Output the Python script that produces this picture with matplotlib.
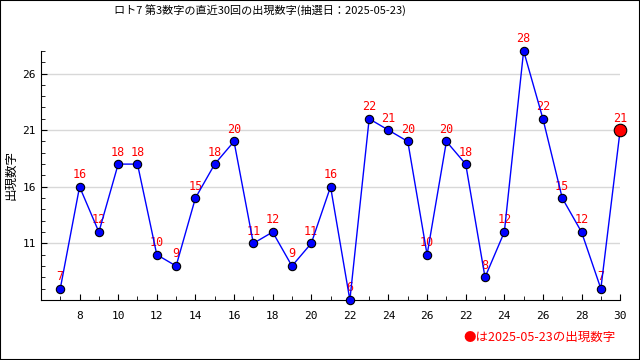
import matplotlib
matplotlib.use("Agg")
from matplotlib import pyplot as plt
from matplotlib.patches import Rectangle

plt.rcParams['font.family'] = ['Noto Sans CJK JP', 'DejaVu Sans']

# 直近30回の第3数字
kai = list(range(1, 31))
suji = [7, 16, 12, 18, 18, 10, 9, 15, 18, 20,
        11, 12, 9, 11, 16, 6, 22, 21, 20, 10,
        20, 18, 8, 12, 28, 22, 15, 12, 7, 21]
x_ticks = [2, 4, 6, 8, 10, 12, 14, 16, 18, 20, 22, 24, 26, 28, 30]
x_labels = ['8', '10', '12', '14', '16', '18', '20', '22', '24', '26',
            '22', '24', '26', '28', '30']
y_ticks = [11, 16, 21, 26]

titlu = 'ロト7 第3数字の直近30回の出現数字(抽選日：2025-05-23)'
nota = '●は2025-05-23の出現数字'

fig = plt.figure(figsize=(6.4, 3.6), dpi=100)
ax = fig.add_axes([0.064, 0.1667, 0.905, 0.692])

ax.plot(kai, suji, color='blue', lw=1, zorder=2)
ax.plot(kai[:-1], suji[:-1], 'o', ms=6, mfc='blue', mec='black', mew=0.8,
        zorder=3, clip_on=False)
ax.plot(kai[-1], suji[-1], 'o', ms=9, mfc='red', mec='black', mew=0.8,
        zorder=4, clip_on=False)

for xi, yi in zip(kai, suji):
    ax.annotate(str(yi), (xi, yi), xytext=(0, 4), textcoords='offset points',
                ha='center', va='bottom', color='red', fontsize=8.5,
                family='DejaVu Sans Mono', annotation_clip=False, zorder=1)

ax.set_xlim(0, 30)
ax.set_ylim(6, 28)
ax.set_xticks(x_ticks)
ax.set_xticklabels(x_labels, family='DejaVu Sans Mono')
ax.set_xticks(kai, minor=True)
ax.set_yticks(y_ticks)
ax.set_yticklabels([str(v) for v in y_ticks], family='DejaVu Sans Mono')
ax.set_yticks(range(6, 29), minor=True)
ax.tick_params(which='both', direction='in', labelsize=8)
ax.tick_params(which='major', length=4)
ax.tick_params(which='minor', length=3)
ax.tick_params(axis='x', pad=8)

ax.grid(axis='y', color='#d8d8d8', lw=1)
ax.set_axisbelow(True)
ax.spines['top'].set_visible(False)
ax.spines['right'].set_visible(False)

ax.set_ylabel('出現数字', fontsize=9, labelpad=4)
fig.text(0.406, 0.972, titlu, fontsize=8, ha='center', va='center')
fig.text(0.962, 0.063, nota, color='red', fontsize=9, ha='right', va='center')

fig.patches.append(Rectangle((0, 0), 1, 1, transform=fig.transFigure,
                             fill=False, ec='black', lw=1.5))

fig.savefig('out.png', dpi=100)
